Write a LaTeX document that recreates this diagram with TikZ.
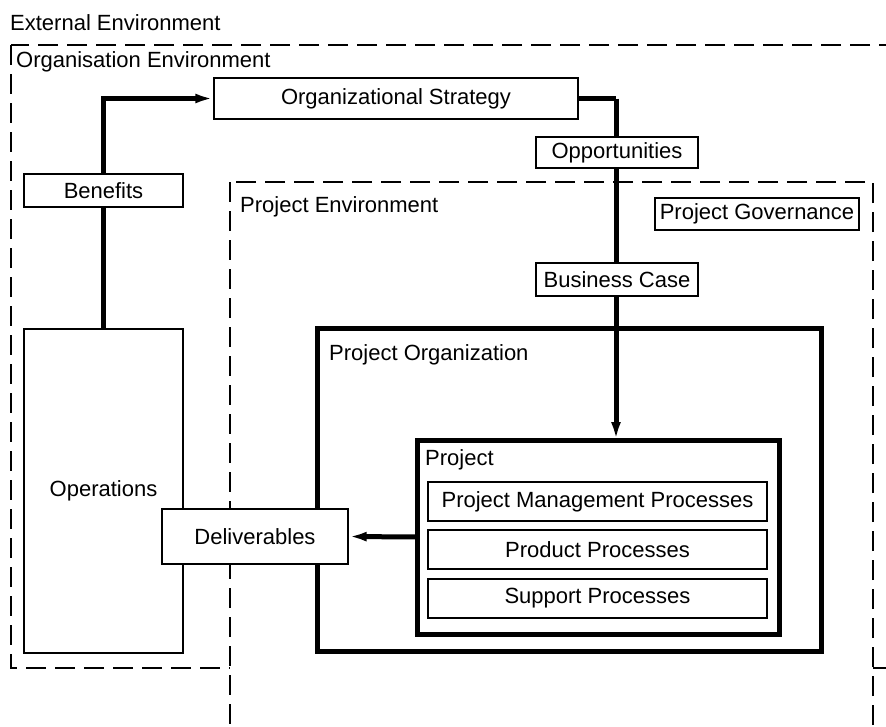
\documentclass[tikz,border=0pt]{standalone}
\usepackage{fontspec}
\setmainfont{Liberation Sans}
\usetikzlibrary{arrows.meta}
\begin{document}
\begin{tikzpicture}[x=1pt,y=-1pt,
  every node/.style={font=\fontsize{22}{26}\selectfont, text=black},
  envline/.style={line width=1.3pt, dash pattern=on 20pt off 9pt},
  box/.style={draw, fill=white, line width=1.4pt, inner sep=0pt, anchor=center},
  thickbox/.style={draw, line width=5pt},
  flow/.style={line width=5pt, -{Latex[length=18pt,width=10pt]}},
  flowplain/.style={line width=5pt},
  lbl/.style={anchor=base west, inner sep=0pt}]
\useasboundingbox (0,0) rectangle (886,726);
\clip (0,0) rectangle (886,726);
\fill[white] (0,0) rectangle (886,726);
% environments
\draw[envline] (11,45) rectangle (905,668);
\draw[envline, fill=white] (230,182) rectangle (873,770);
\node[lbl] (extlbl) at (10,30) {External Environment};
\node[lbl] (orglbl) at (16,67) {Organisation Environment};
\node[lbl] (prjenvlbl) at (240,212) {Project Environment};
% project organization and project
\draw[thickbox] (317,328) rectangle (821,651);
\node[lbl] (porglbl) at (329,360) {Project Organization};
\draw[thickbox, fill=white] (417,440) rectangle (779,634);
\node[lbl] (projlbl) at (425,465) {Project};
% boxes
\node[box, minimum width=364pt, minimum height=41pt] (strat) at (396,98.5) {Organizational Strategy};
\node[box, minimum width=159pt, minimum height=324pt] (ops) at (103.5,491) {Operations};
\coordinate (projwest) at (417,537);
\coordinate (corner1) at (616,98.5);
\coordinate (projtop) at (616,440);
% connectors
\draw[flow] (ops.north) |- (strat.west);
\draw[flowplain] (strat.east) -- (corner1);
\draw[flow] (corner1) -- (projtop);
\node[box, minimum width=159pt, minimum height=33pt] (benefits) at (103.5,190.5) {Benefits};
\node[box, minimum width=162pt, minimum height=31pt] (opp) at (617,152.5) {Opportunities};
\node[box, minimum width=162pt, minimum height=33pt] (bcase) at (617,279.5) {Business Case};
\node[box, minimum width=204pt, minimum height=32pt] (gov) at (757,214) {Project Governance};
\node[box, minimum width=186pt, minimum height=55pt] (deliv) at (255,536.5) {Deliverables};
\draw[flow] (projwest) -- (deliv.east);
\node[box, minimum width=339pt, minimum height=39pt] (pmp) at (597.5,501.5) {Project Management Processes};
\node[box, minimum width=339pt, minimum height=39pt] (pp) at (597.5,549.5) {Product Processes};
\node[box, minimum width=339pt, minimum height=39pt] (sp) at (597.5,598.5) {Support Processes};
\end{tikzpicture}
\end{document}
